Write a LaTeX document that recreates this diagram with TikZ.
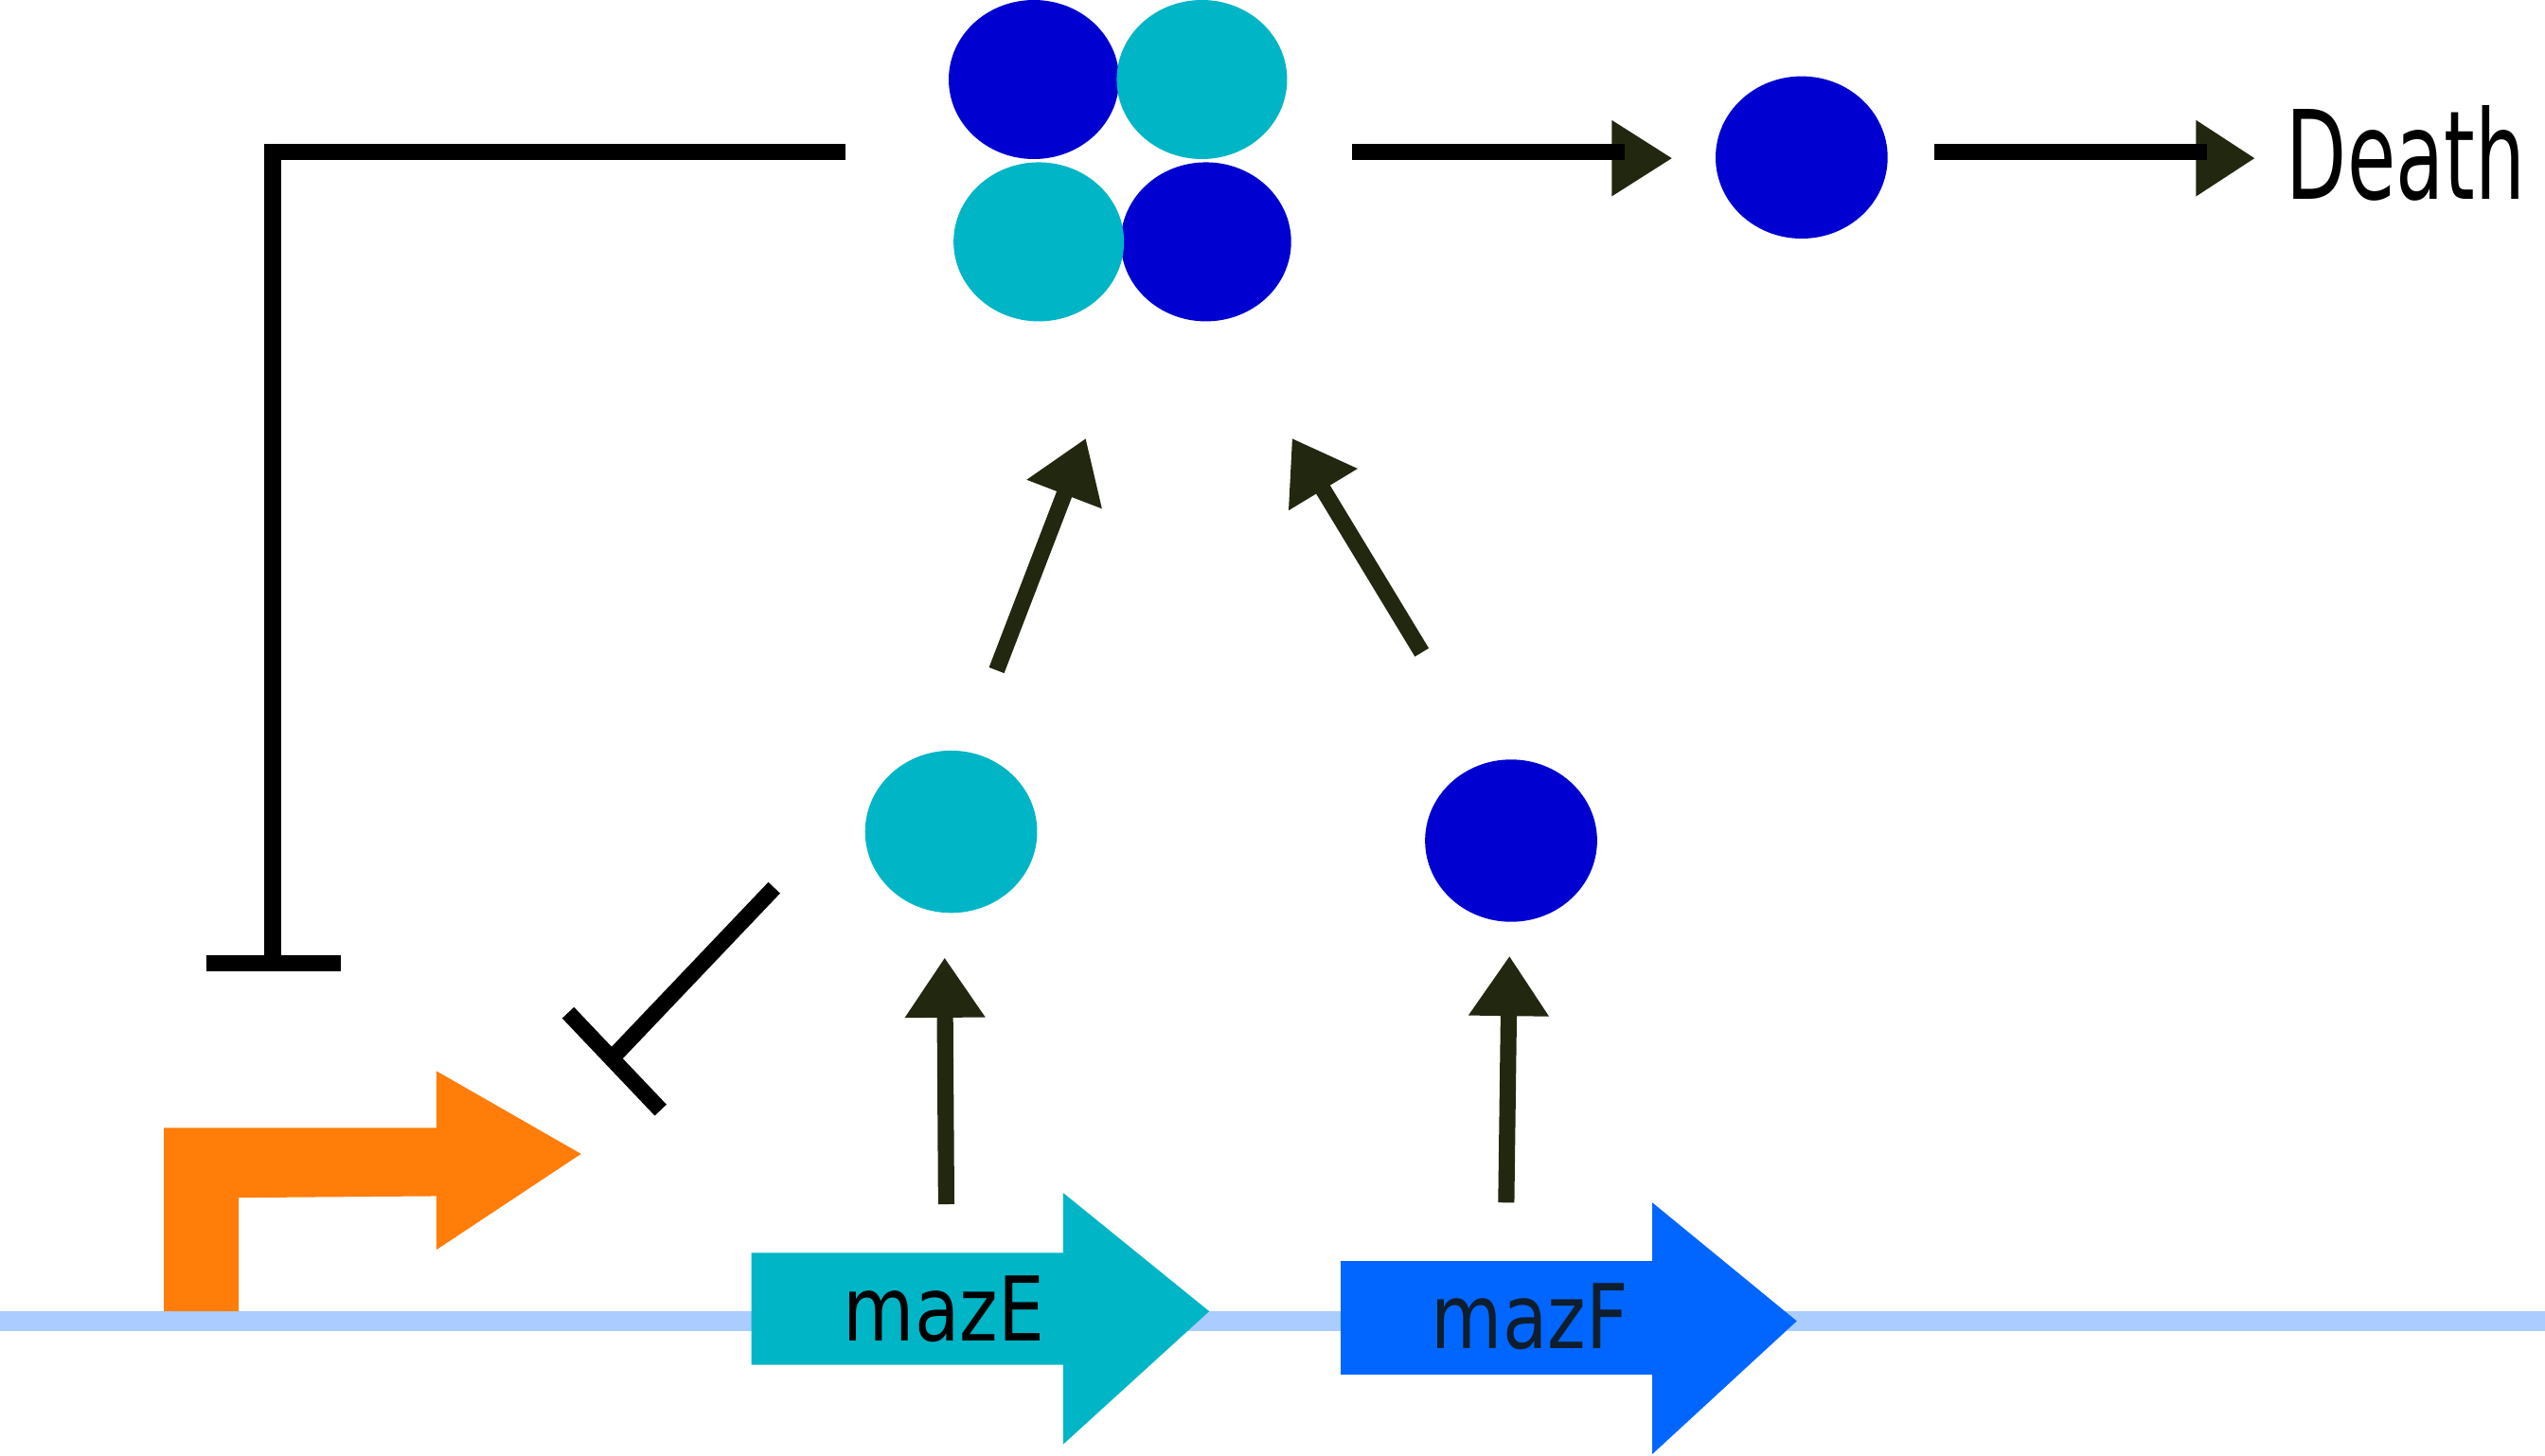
\documentclass[tikz,border=0pt]{standalone}
\usepackage{fontspec}
\usepackage{graphicx}
\setmainfont{DejaVu Sans}
\usetikzlibrary{shapes.geometric,arrows.meta}
\definecolor{tox}{RGB}{0,0,208}
\definecolor{anti}{RGB}{0,181,197}
\definecolor{fgene}{RGB}{0,102,255}
\definecolor{prom}{RGB}{255,125,8}
\definecolor{dna}{RGB}{170,204,255}
\definecolor{olive}{RGB}{34,40,16}
\definecolor{ftext}{RGB}{15,30,45}
\tikzset{
  prot/.style={ellipse, inner sep=0pt, minimum width=106pt, minimum height=100pt, draw=none},
  toxin/.style={prot, fill=tox},
  antitoxin/.style={prot, fill=anti},
  act/.style={line width=10pt, draw=olive, -{Triangle[length=37pt,width=47pt]}},
  bar/.style={line width=10pt, draw=black, line cap=butt},
  head/.style={fill=olive},
  genelbl/.style={inner sep=0pt, anchor=base, font=\fontsize{55}{60}\selectfont}
}
\begin{document}
\begin{tikzpicture}[x=1pt,y=-1pt]
\useasboundingbox (0,0) rectangle (1568,897);
% DNA
\coordinate (dnaL) at (0,814);
\coordinate (dnaR) at (1568,814);
\draw[line width=12pt, dna] (dnaL) -- (dnaR);
% promoter
\fill[prom] (101,808) -- (101,695) -- (269,695) -- (269,660) -- (358,711) -- (269,770) -- (269,737) -- (147,738) -- (147,808) -- cycle;
% genes
\fill[anti] (463,772) -- (655,772) -- (655,735) -- (745,808) -- (655,890) -- (655,841) -- (463,841) -- cycle;
\fill[fgene] (826,777) -- (1018,777) -- (1018,741) -- (1107,814) -- (1018,896) -- (1018,847) -- (826,847) -- cycle;
\node[genelbl, text=black] (mazE) at (581.5,826.5) {\scalebox{0.82}[1]{mazE}};
\node[genelbl, text=ftext] (mazF) at (942.5,831) {\scalebox{0.82}[1]{mazF}};
% monomers
\node[antitoxin] (E) at (586,512.5) {};
\node[toxin] (F) at (931,518) {};
% tetramer
\node[toxin, minimum width=105pt, minimum height=98pt] (tTL) at (637,49) {};
\node[antitoxin, minimum width=105pt, minimum height=98pt] (tTR) at (740.5,49) {};
\node[toxin, minimum width=105pt, minimum height=98pt] (tBR) at (743,149) {};
\node[antitoxin, minimum width=105pt, minimum height=98pt] (tBL) at (640,149) {};
% free toxin
\node[toxin] (free) at (1110,97) {};
% Death
\node[inner sep=0pt, anchor=base west, font=\fontsize{76}{80}\selectfont] (death) at (1408.5,122.5) {\scalebox{0.64}[1]{Death}};
% expression arrows
\coordinate (eS) at (583,742);
\coordinate (eT) at (582,590);
\coordinate (fS) at (928,741);
\coordinate (fT) at (930,589);
\draw[act] (eS) -- (eT);
\draw[act] (fS) -- (fT);
% assembly arrows
\coordinate (aS) at (614,413);
\coordinate (aT) at (669,270);
\coordinate (bS) at (876,402);
\coordinate (bT) at (796,270);
\draw[act] (aS) -- (aT);
\draw[act] (bS) -- (bT);
% tetramer -> free toxin -> death
\coordinate (r1S) at (833,93.5);
\coordinate (r1E) at (1001,93.5);
\coordinate (r1T) at (1030,97.5);
\fill[head] (993,74) -- (r1T) -- (993,121) -- cycle;
\draw[bar] (r1S) -- (r1E);
\coordinate (r2S) at (1192,93.5);
\coordinate (r2E) at (1360,93.5);
\coordinate (r2T) at (1389,97.5);
\fill[head] (1353,74) -- (r2T) -- (1353,121) -- cycle;
\draw[bar] (r2S) -- (r2E);
% inhibition by tetramer
\coordinate (iS) at (521,93.5);
\coordinate (iE) at (168,593.5);
\coordinate (iB1) at (127,593.5);
\coordinate (iB2) at (210,593.5);
\draw[bar, line join=miter] (iS) -| (iE);
\draw[bar] (iB1) -- (iB2);
% inhibition by antitoxin
\coordinate (jS) at (477,547);
\coordinate (jE) at (378,651);
\coordinate (jB1) at (350,624);
\coordinate (jB2) at (407,684);
\draw[bar] (jS) -- (jE);
\draw[bar] (jB1) -- (jB2);
\end{tikzpicture}
\end{document}
